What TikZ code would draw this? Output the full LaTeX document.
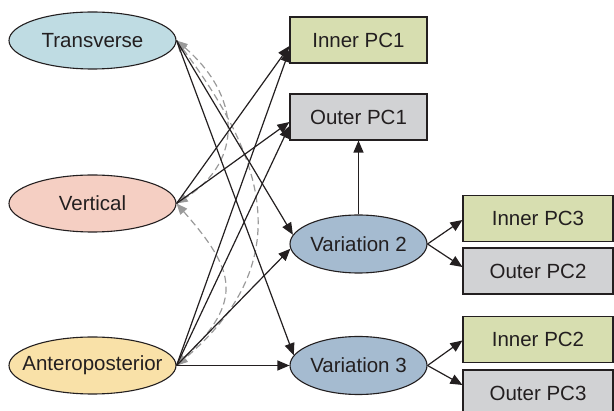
\documentclass[tikz,border=0pt]{standalone}
\usepackage{fontspec}
\setmainfont{Liberation Sans}
\usetikzlibrary{arrows.meta,calc,shapes.geometric}
\definecolor{txt}{HTML}{231F20}
\definecolor{ln}{HTML}{231F20}
\definecolor{cT}{HTML}{BFDCE3}
\definecolor{cV}{HTML}{F5CFC3}
\definecolor{cA}{HTML}{F9E1A8}
\definecolor{cVar}{HTML}{A5BBD0}
\definecolor{cIn}{HTML}{D7DEB0}
\definecolor{cOut}{HTML}{D1D2D4}
\definecolor{dash}{HTML}{9A9A9A}
\newcommand\zb[1]{\makebox[0pt]{#1}}
\begin{document}
\begin{tikzpicture}[x=1pt,y=-1pt,
  every node/.style={font=\fontsize{20.5}{24}\selectfont, text=txt, inner sep=0pt},
  bigell/.style={ellipse, draw=ln, line width=1.1pt, minimum width=167pt, minimum height=57pt},
  varell/.style={ellipse, draw=ln, line width=1.1pt, fill=cVar, minimum width=137pt, minimum height=58pt},
  boxa/.style={rectangle, draw=ln, line width=1.1pt, minimum width=137pt, minimum height=46pt},
  boxb/.style={rectangle, draw=ln, line width=1.1pt, minimum width=150pt, minimum height=46pt},
  arr/.style={draw=ln, line width=1.2pt, -{Triangle[length=12pt,width=10pt]}},
  corr/.style={draw=dash, line width=1.2pt, dash pattern=on 7pt off 4pt,
    {Triangle[length=11pt,width=9pt]}-{Triangle[length=11pt,width=9pt]}}
]
\useasboundingbox (0,0) rectangle (614,411);
\begin{scope}
\clip (0,0) rectangle (614,411);
% left ellipses
\node[bigell, fill=cT] (T) at (92.5,40.5) {\zb{Transverse}};
\node[bigell, fill=cV] (V) at (92.5,203.5) {\zb{Vertical}};
\node[bigell, fill=cA] (A) at (92.5,365.5) {\zb{Anteroposterior}};
% middle column
\node[boxa, fill=cIn] (IP1) at (358.5,40) {Inner PC1};
\node[boxa, fill=cOut] (OP1) at (358.5,117) {Outer PC1};
\node[varell] (V2) at (358.5,244) {\zb{Variation 2}};
\node[varell] (V3) at (358.5,365.5) {\zb{Variation 3}};
% right column
\node[boxb, fill=cIn] (IP3) at (538,218.5) {Inner PC3};
\node[boxb, fill=cOut] (OP2) at (538,271) {Outer PC2};
\node[boxb, fill=cIn] (IP2) at (538,339.5) {Inner PC2};
\node[boxb, fill=cOut] (OP3) at (538,393) {Outer PC3};
\end{scope}
% correlations
\draw[corr] (T.east) .. controls (240,95) and (245,160) .. (V.east);
\draw[corr] (T.east) .. controls (270,165) and (295,265) .. (A.east);
\draw[corr] (V.east) .. controls (235,270) and (245,300) .. (A.east);
% paths
\draw[arr] (T.east) -- (V2.172);
\draw[arr] (T.east) -- (V3.171);
\draw[arr] (V.east) -- ($(IP1.west)+(0,6)$);
\draw[arr] (V.east) -- ($(OP1.west)+(0,5)$);
\draw[arr] (A.east) -- ($(IP1.west)+(0,10)$);
\draw[arr] (A.east) -- ($(OP1.west)+(0,9)$);
\draw[arr] (A.east) -- (V2.184);
\draw[arr] (A.east) -- (V3.west);
\draw[arr] (V2.north) -- (OP1.south);
\draw[arr] (V2.east) -- ($(IP3.west)+(0,1.5)$);
\draw[arr] (V2.east) -- ($(OP2.west)+(0,-4)$);
\draw[arr] (V3.east) -- ($(IP2.west)+(0,1)$);
\draw[arr] (V3.east) -- ($(OP3.west)+(0,-8)$);
\end{tikzpicture}
\end{document}
